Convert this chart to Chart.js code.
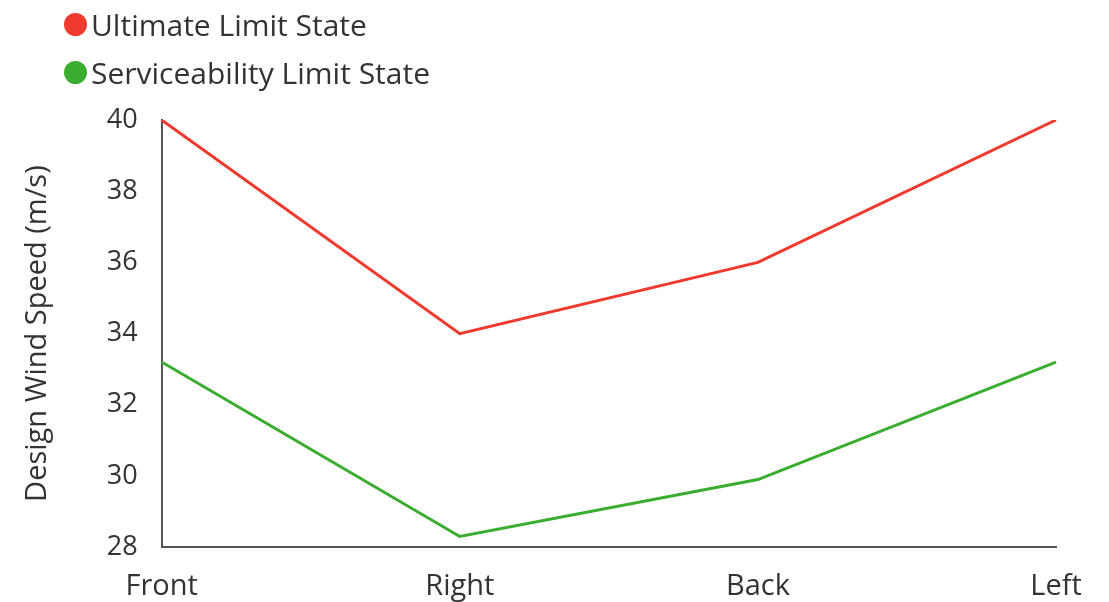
<!DOCTYPE html>
<html>
<head>
<meta charset="utf-8">
<script src="https://cdn.jsdelivr.net/npm/chart.js@4.4.1/dist/chart.umd.min.js"></script>
<style>
  html, body { margin: 0; padding: 0; background: #ffffff; }
  #wrap { position: relative; width: 1109px; height: 602px; }
  #legend { position: absolute; left: 64px; top: 0px; font-family: "Open Sans", sans-serif; font-size: 30px; color: #333333; }
  .item { display: flex; align-items: center; height: 48px; }
  .dot { width: 23px; height: 23px; border-radius: 50%; margin-right: 4px; }
</style>
</head>
<body>
<div id="wrap">
  <canvas id="chart" width="1109" height="602"></canvas>
  <div id="legend"></div>
</div>
<script>
// Wind direction faces
const categories = ['Front', 'Right', 'Back', 'Left'];

// Design wind speeds (m/s)
const ultimateLimitState = [40, 34, 36, 40];
const serviceabilityLimitState = [33.2, 28.3, 29.9, 33.2];

const yTicks = { min: 28, max: 40, step: 2 };
const yTitle = 'Design Wind Speed (m/s)';

const RED = '#f03a2d';
const GREEN = '#3aad31';
const FONT = '"Open Sans", sans-serif';
const TEXT = '#333333';

const chart = new Chart(document.getElementById('chart'), {
  type: 'line',
  data: {
    labels: categories,
    datasets: [
      { label: 'Ultimate Limit State', data: ultimateLimitState, borderColor: RED, backgroundColor: RED, borderWidth: 3, pointRadius: 0, tension: 0 },
      { label: 'Serviceability Limit State', data: serviceabilityLimitState, borderColor: GREEN, backgroundColor: GREEN, borderWidth: 3, pointRadius: 0, tension: 0 }
    ]
  },
  options: {
    responsive: false,
    animation: false,
    layout: { padding: { top: 120, right: 53, left: 20, bottom: -24 } },
    plugins: { legend: { display: false }, tooltip: { enabled: false } },
    scales: {
      x: {
        offset: false,
        grid: { display: false, drawTicks: false },
        border: { display: true, color: '#555555', width: 2 },
        ticks: { color: TEXT, font: { family: FONT, size: 29 }, padding: 22, maxRotation: 0 }
      },
      y: {
        min: yTicks.min,
        max: yTicks.max,
        grid: { display: false, drawTicks: false },
        border: { display: true, color: '#555555', width: 2 },
        ticks: { stepSize: yTicks.step, color: TEXT, font: { family: FONT, size: 27 }, padding: 24 },
        title: { display: true, text: yTitle, color: TEXT, font: { family: FONT, size: 29 }, padding: { top: 0, bottom: 28 } }
      }
    }
  }
});

// Stacked legend built from the chart's own datasets
const legendEl = document.getElementById('legend');
chart.data.datasets.forEach(ds => {
  const row = document.createElement('div');
  row.className = 'item';
  const dot = document.createElement('span');
  dot.className = 'dot';
  dot.style.background = ds.borderColor;
  const txt = document.createElement('span');
  txt.textContent = ds.label;
  row.appendChild(dot);
  row.appendChild(txt);
  legendEl.appendChild(row);
});
</script>
</body>
</html>
